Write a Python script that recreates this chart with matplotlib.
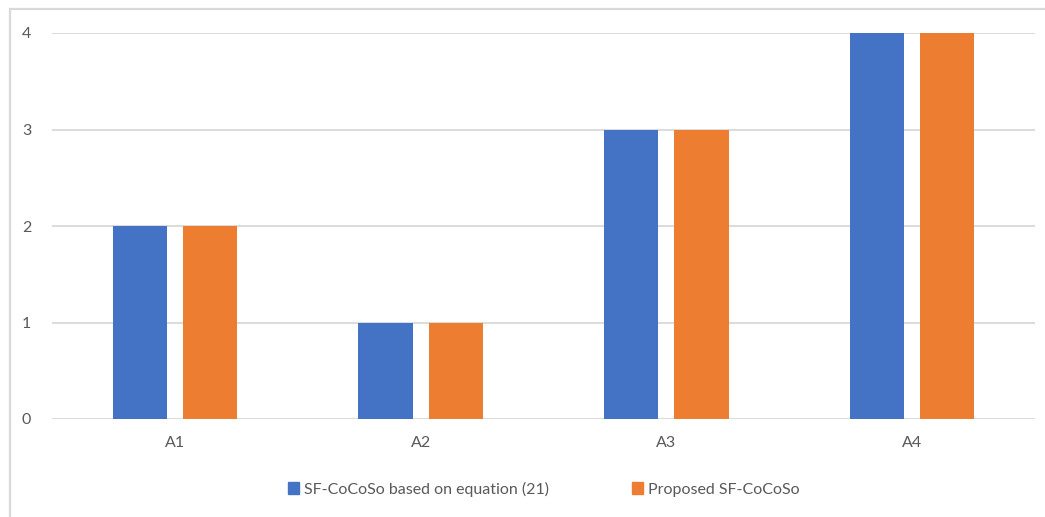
import matplotlib
matplotlib.use("Agg")
import matplotlib.pyplot as plt
import matplotlib.patches as mpatches
import numpy as np

categories = ["A1", "A2", "A3", "A4"]
series_names = ["SF-CoCoSo based on equation (21)", "Proposed SF-CoCoSo"]
sf_cocoso_eq21 = [2, 1, 3, 4]
proposed_sf_cocoso = [2, 1, 3, 4]
y_ticks = [0, 1, 2, 3, 4]

colors = ["#4472C4", "#ED7D31"]
text_color = "#595959"
grid_color = "#D9D9D9"

plt.rcParams["font.family"] = ["Lato", "DejaVu Sans"]

W, H = 1045, 517
fig = plt.figure(figsize=(W / 100, H / 100), dpi=100)
fig.patch.set_facecolor("white")

# outer chart frame (open on the right and bottom edges)
frame = mpatches.Rectangle((10 / W, -0.05), 1.1, 1 - 9 / H + 0.05,
                           transform=fig.transFigure, fill=False,
                           edgecolor=grid_color, linewidth=1.6)
fig.add_artist(frame)

ax = fig.add_axes([52 / W, (H - 419) / H, (1035 - 52) / W, (419 - 33) / H])

x = np.arange(len(categories))
bw = 0.22
off = 0.143
ax.bar(x - off, sf_cocoso_eq21, width=bw, color=colors[0], label=series_names[0], zorder=3)
ax.bar(x + off, proposed_sf_cocoso, width=bw, color=colors[1], label=series_names[1], zorder=3)

ax.set_xlim(-0.5, len(categories) - 0.5)
ax.set_ylim(0, 4)
ax.set_yticks(y_ticks)
ax.set_xticks(x)
ax.set_xticklabels(categories)
ax.tick_params(axis="both", length=0, colors=text_color, labelsize=11.5)
ax.tick_params(axis="y", pad=15)
ax.tick_params(axis="x", pad=12)

ax.grid(axis="y", color=grid_color, linewidth=1.3, zorder=0)
for s in ax.spines.values():
    s.set_visible(False)

handles = [mpatches.Patch(color=c) for c in colors]
fig.legend(handles, series_names, loc="center", bbox_to_anchor=(544 / W, 1 - 489 / H),
           ncol=2, frameon=False, fontsize=11.5, labelcolor=text_color,
           handlelength=0.7, handleheight=0.7, handletextpad=0.3, columnspacing=5.2)

fig.savefig("out.png", dpi=100, facecolor="white")
